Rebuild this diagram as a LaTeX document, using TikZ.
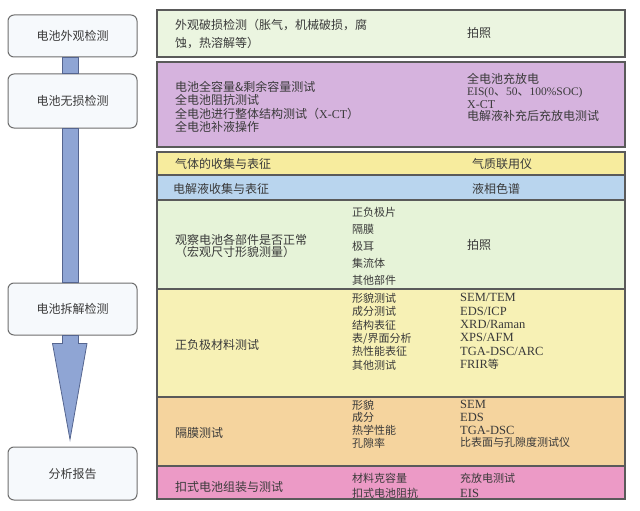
\documentclass[tikz,border=0pt]{standalone}
\usepackage{fontspec}
\setmainfont{Noto Sans CJK SC}
\newfontfamily\latin{Liberation Serif}
\usetikzlibrary{calc}
\definecolor{txt}{HTML}{3A3A3A}
\definecolor{boxfill}{HTML}{F6F9FC}
\definecolor{boxline}{HTML}{6E6E6E}
\definecolor{rowline}{HTML}{5A5A5A}
\definecolor{barblue}{HTML}{8FA5D4}
\definecolor{bardark}{HTML}{55658F}
\definecolor{rowA}{HTML}{EBF5E0}
\definecolor{rowB}{HTML}{D6B3DE}
\definecolor{rowC}{HTML}{F7EC9E}
\definecolor{rowD}{HTML}{B9D5EE}
\definecolor{rowE}{HTML}{E6F3D8}
\definecolor{rowF}{HTML}{F7F1B5}
\definecolor{rowG}{HTML}{F5D49E}
\definecolor{rowH}{HTML}{EC9AC6}

\begin{document}
\begin{tikzpicture}[x=1pt,y=-1pt,
	stage/.style={draw=boxline, line width=1pt, rounded corners=6pt, fill=boxfill,
		minimum width=129pt, text=txt, font=\fontsize{12}{14}\selectfont},
	row/.style={draw=rowline, line width=1.2pt},
	lbl/.style={anchor=west, align=left, inner sep=0pt, text=txt, font=\fontsize{12}{13.3}\selectfont},
	sub/.style={lbl, font=\fontsize{11}{13.4}\selectfont},
	bar/.style={draw=bardark, line width=0.8pt, fill=barblue}]

	\useasboundingbox (0,0) rectangle (640,511);

	% table rows
	\draw[row, fill=rowA] (157,10) rectangle (625,57);
	\draw[row, fill=rowB] (157,62) rectangle (625,147);
	\draw[row, fill=rowC] (157,152) rectangle (625,175);
	\draw[row, fill=rowD] (157,175) rectangle (625,200);
	\draw[row, fill=rowE] (157,200) rectangle (625,289);
	\draw[row, fill=rowF] (157,289) rectangle (625,397);
	\draw[row, fill=rowG] (157,397) rectangle (625,466);
	\draw[row, fill=rowH] (157,466) rectangle (625,499);

	% stages on the left
	\node[stage, minimum height=42pt] (look) at (72.5,36) {电池外观检测};
	\node[stage, minimum height=54pt] (intact) at (72.5,101) {电池无损检测};
	\node[stage, minimum height=52pt] (teardown) at (72.5,309) {电池拆解检测};
	\node[stage, minimum height=53pt] (report) at (72.5,473.5) {分析报告};

	\draw[bar] ($(look.south)+(-10,0)$) rectangle ($(intact.north)+(6,0)$);
	\draw[bar] ($(intact.south)+(-10,0)$) rectangle ($(teardown.north)+(6,0)$);
	\draw[bar] ($(teardown.south)+(-10,0)$) -- ++(0,8) -- ++(-10,0)
		-- ($(report.north)+(-2.5,-7)$) -- ($(teardown.south)+(14.5,8)$)
		-- ++(-8.5,0) -- ($(teardown.south)+(6,0)$) -- cycle;

	% row 1
	\node[lbl, font=\fontsize{12}{18}\selectfont] (lookL) at (175,34) {外观破损检测（胀气，机械破损，腐\\蚀，热溶解等）};
	\node[lbl] (lookR) at (467,33) {拍照};

	% row 2
	\node[lbl] (intactL) at (175,107) {电池全容量\&剩余容量测试\\全电池阻抗测试\\全电池进行整体结构测试（{\latin X-CT}）\\全电池补液操作};
	\node[lbl, font=\fontsize{12}{12.3}\selectfont] (intactR) at (467,97.5) {全电池充放电\\{\latin\fontsize{11.5}{12.3}\selectfont EIS(0}、{\latin\fontsize{11.5}{12.3}\selectfont 50}、{\latin\fontsize{11.5}{12.3}\selectfont 100\%SOC)}\\{\latin X-CT}\\电解液补充后充放电测试};

	% rows 3 and 4
	\node[lbl] (gasL) at (175,164) {气体的收集与表征};
	\node[lbl] (gasR) at (472,164) {气质联用仪};
	\node[lbl] (liqL) at (173,189) {电解液收集与表征};
	\node[lbl] (liqR) at (472,189) {液相色谱};

	% row 5
	\node[lbl, font=\fontsize{12}{12.5}\selectfont] (partL) at (175,246) {观察电池各部件是否正常\\（宏观尺寸形貌测量）};
	\node[sub, font=\fontsize{11}{17}\selectfont] (partM) at (352,246) {正负极片\\隔膜\\极耳\\集流体\\其他部件};
	\node[lbl] (partR) at (467,245) {拍照};

	% row 6
	\node[lbl] (elecL) at (175,345) {正负极材料测试};
	\node[sub] (elecM) at (352,331.5) {形貌测试\\成分测试\\结构表征\\表/界面分析\\热性能表征\\其他测试};
	\node[sub, font=\latin\fontsize{12.5}{13.4}\selectfont] (elecR) at (460,331.5) {SEM/TEM\\EDS/ICP\\XRD/Raman\\XPS/AFM\\TGA-DSC/ARC\\FRIR{\fontspec{Noto Sans CJK SC}\fontsize{11}{13.4}\selectfont 等}};

	% row 7
	\node[lbl] (sepL) at (175,433) {隔膜测试};
	\node[sub, font=\fontsize{11}{12.7}\selectfont] (sepM) at (352,424) {形貌\\成分\\热学性能\\孔隙率};
	\node[sub, font=\fontsize{11}{12.7}\selectfont] (sepR) at (460,424) {{\latin\fontsize{12.5}{12.7}\selectfont SEM}\\{\latin\fontsize{12.5}{12.7}\selectfont EDS}\\{\latin\fontsize{12.5}{12.7}\selectfont TGA-DSC}\\比表面与孔隙度测试仪};

	% row 8
	\node[lbl] (coinL) at (175,487) {扣式电池组装与测试};
	\node[sub, font=\fontsize{11}{15}\selectfont] (coinM) at (352,485.5) {材料克容量\\扣式电池阻抗};
	\node[sub, font=\fontsize{11}{15}\selectfont] (coinR) at (460,485.5) {充放电测试\\{\latin\fontsize{12.5}{15}\selectfont EIS}};

\end{tikzpicture}
\end{document}
